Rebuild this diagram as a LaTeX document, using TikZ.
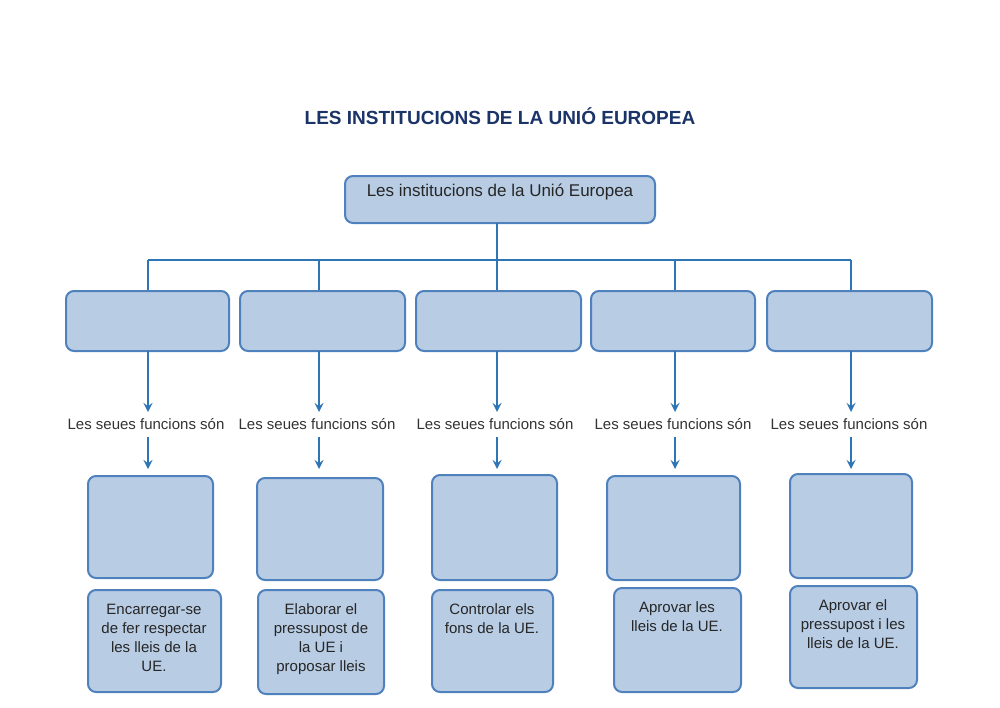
\documentclass[tikz,border=0pt]{standalone}
\usepackage{fontspec}
\setmainfont{Liberation Sans}
\begin{document}
\begin{tikzpicture}[x=0.5pt,y=-0.5pt,
  bx/.style={draw=boxb,fill=boxf,line width=1pt,rounded corners=4pt},
  ln/.style={draw=lineb,line width=1pt},
  ar/.style={ln,-stealth},
  lab/.style={font=\fontsize{7.5}{9}\selectfont,text=black!80},
  tx/.style={font=\fontsize{7.5}{9.5}\selectfont,align=center,text=black!85,anchor=north}]
\definecolor{boxf}{HTML}{B8CCE4}
\definecolor{boxb}{HTML}{4F81BD}
\definecolor{lineb}{HTML}{2E75B6}
\definecolor{navy}{HTML}{1B3468}
\useasboundingbox (0,0) rectangle (1000,707);
\node[font=\bfseries\fontsize{9.5}{11}\selectfont,text=navy] (title) at (500,116) {LES INSTITUCIONS DE LA UNIÓ EUROPEA};
\draw[bx] (345,176) rectangle (655,223);
\node[font=\fontsize{8.5}{10}\selectfont,text=black!85] (top) at (500,192) {Les institucions de la Unió Europea};
\coordinate (tb) at (497,223);
\draw[ln] (tb) -- (497,260);
\draw[ln] (148,260) -- (851,260);
\foreach \x/\a/\b/\ea/\eb/\ey/\fa/\fb/\fy/\ga/\gb/\gy/\gz in
 {148/66/229/88/213/476/88/221/590/88/213/578/692,
  319/240/405/257/383/478/258/384/590/257/383/580/694,
  497/416/581/432/557/475/432/553/590/432/557/580/692,
  675/591/755/607/740/476/614/741/588/607/740/580/692,
  851/767/932/790/912/474/790/917/586/790/912/578/688}{
  \draw[ln] (\x,260) -- (\x,291);
  \draw[bx] (\a,291) rectangle (\b,351);
  \draw[ar] (\x,351) -- (\x,412);
  \node[lab] at (\x-2,424) {Les seues funcions són};
  \draw[ar] (\x,437) -- (\x,469);
  \draw[bx] (\ea,\ey) rectangle (\eb,\gy);
  \draw[bx] (\fa,\fy) rectangle (\fb,\gz);
}
\node[tx] (t1) at (154,597) {Encarregar-se\\de fer respectar\\les lleis de la\\UE.};
\node[tx] (t2) at (321,597) {Elaborar el\\pressupost de\\la UE i\\proposar lleis};
\node[tx] (t3) at (492,597) {Controlar els\\fons de la UE.};
\node[tx] (t4) at (677,595) {Aprovar les\\lleis de la UE.};
\node[tx] (t5) at (853,593) {Aprovar el\\pressupost i les\\lleis de la UE.};
\end{tikzpicture}
\end{document}
